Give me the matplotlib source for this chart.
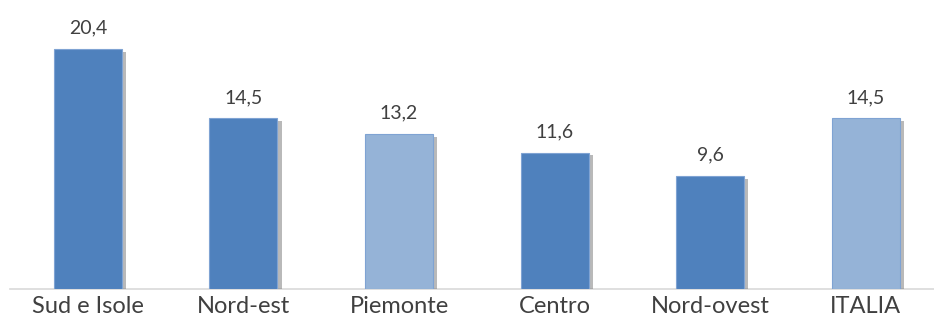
import matplotlib
matplotlib.use("Agg")
import matplotlib.pyplot as plt
import matplotlib.patheffects as pe

# data
categories = ['Sud e Isole', 'Nord-est', 'Piemonte', 'Centro', 'Nord-ovest', 'ITALIA']
values = [20.4, 14.5, 13.2, 11.6, 9.6, 14.5]
highlight = [False, False, True, False, False, True]

dark_blue = '#4F81BD'
light_blue = '#95B3D7'
text_col = '#404040'

plt.rcParams['font.family'] = ['Lato', 'DejaVu Sans']

fig = plt.figure(figsize=(9.34, 3.29), dpi=100)
ax = fig.add_axes([10 / 934, 40 / 329, 924 / 934, 289 / 329])

colors = [light_blue if h else dark_blue for h in highlight]
x = list(range(len(categories)))
bars = ax.bar(x, values, width=0.437, color=colors, edgecolor='#7FA3D3', linewidth=0.8, zorder=3)
for b in bars:
    b.set_path_effects([pe.SimplePatchShadow(offset=(3, -2), shadow_rgbFace='#808080', alpha=0.55),
                        pe.Normal()])

for xi, v in zip(x, values):
    ax.annotate(f"{v:.1f}".replace('.', ','), (xi, v), xytext=(0, 9), textcoords='offset points',
                ha='center', va='bottom', fontsize=14, color=text_col)

ax.set_xlim(-0.5, 924 / 155.6 - 0.5)
ax.set_ylim(0, 24.57)
ax.set_xticks(x)
ax.set_xticklabels(categories, fontsize=17, color=text_col)
ax.tick_params(axis='x', length=0, pad=5)
ax.set_yticks([])
for s in ['top', 'right', 'left']:
    ax.spines[s].set_visible(False)
ax.spines['bottom'].set_color('#D9D9D9')
ax.spines['bottom'].set_linewidth(1.2)
ax.patch.set_alpha(0)

fig.savefig('out.png', dpi=100)
